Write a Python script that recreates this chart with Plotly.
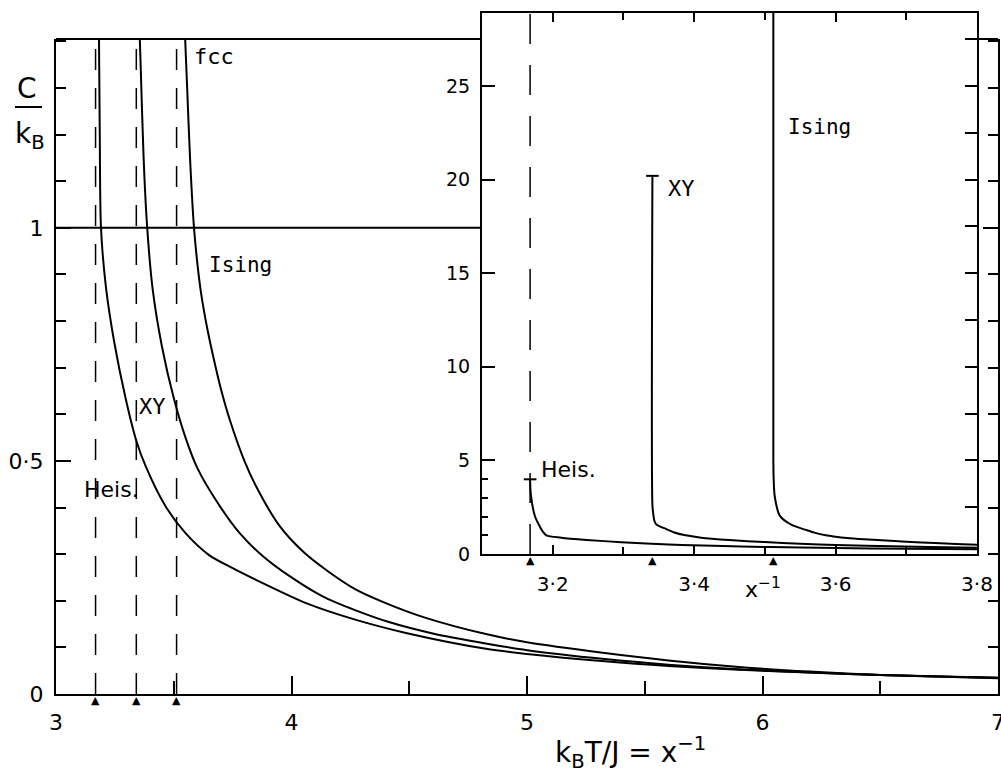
import plotly.graph_objects as go

# ---------------- data ----------------
tc_models = ["Heis.", "XY", "Ising"]
tc_values = [3.168, 3.341, 3.512]          # critical points x_c^-1 (triangles)

heis_x = [3.168, 3.169, 3.175, 3.182, 3.186, 3.191, 3.212, 3.248, 3.297, 3.34, 3.382,
          3.467, 3.55, 3.65, 3.75, 3.849, 4.062, 4.274, 4.486, 4.826, 5.0, 5.33, 5.6, 5.9,
          6.2, 6.5, 7.0]
heis_y = [3.99, 3.2, 2.0, 1.45, 1.19, 1.0, 0.873, 0.753, 0.631, 0.545, 0.487,
          0.401, 0.345, 0.298, 0.27, 0.245, 0.195, 0.159, 0.131, 0.097, 0.086, 0.07, 0.06, 0.052,
          0.046, 0.041, 0.034]

xy_x = [3.341, 3.341, 3.342, 3.344, 3.347, 3.36, 3.372, 3.386, 3.41, 3.45, 3.50, 3.55,
        3.60, 3.68, 3.78, 3.88, 4.0, 4.13, 4.27, 4.41, 4.6, 4.83, 5.0, 5.33, 5.6, 5.9,
        6.2, 6.5, 7.0]
xy_y = [20.2, 2.6, 2.2, 1.75, 1.56, 1.34, 1.15, 1.01, 0.87, 0.745, 0.635, 0.55,
        0.485, 0.415, 0.345, 0.295, 0.25, 0.21, 0.18, 0.155, 0.13, 0.108, 0.094, 0.075, 0.063, 0.053,
        0.046, 0.041, 0.035]

ising_x = [3.512, 3.512, 3.5125, 3.514, 3.521, 3.538, 3.557, 3.57, 3.586, 3.60, 3.616, 3.64,
           3.665, 3.70, 3.74, 3.80, 3.85, 3.95, 4.05, 4.15, 4.27, 4.40, 4.56, 4.83, 5.0, 5.33,
           5.6, 5.9, 6.2, 6.5, 7.0]
ising_y = [30.0, 5.0, 3.96, 3.07, 2.05, 1.55, 1.30, 1.14, 1.0, 0.925, 0.86, 0.79,
           0.73, 0.655, 0.585, 0.50, 0.445, 0.36, 0.305, 0.265, 0.225, 0.195, 0.165, 0.128, 0.111, 0.088,
           0.072, 0.058, 0.048, 0.041, 0.035]

cap_x = [3.168, 3.341]     # finite peak tops (Heis., XY) in the inset
cap_y = [3.99, 20.2]

main_xticks = [3, 4, 5, 6, 7]
main_yticks = [0, 0.5, 1]
main_yticktext = ["0", "0·5", "1"]
inset_xticks = [3.2, 3.4, 3.6, 3.8]
inset_xticktext = ["3·2", "3·4", "3·6", "3·8"]
inset_yticks = [0, 5, 10, 15, 20, 25]
inset_yminor = [1, 2, 3, 4]
inset_yright = [2.5, 5, 7.5, 10, 12.5, 15, 17.5, 20, 22.5, 25, 27.5]
unit_line = 1.0

# ---------------- geometry ----------------
W, H = 1001, 776
ML, MR, MT, MB = 56, 3, 13, 82
PW, PH = W - ML - MR, H - MT - MB


def px(xp):
    return (xp - ML) / PW


def py(yp):
    return (H - MB - yp) / PH


main_top = py(39)
ins_x0, ins_x1 = px(482), px(977)
ins_y0 = py(554)

BLACK = "black"
TXT = "DejaVu Sans"
LBL = "DejaVu Sans Mono"

fig = go.Figure()
series = [(heis_x, heis_y), (xy_x, xy_y), (ising_x, ising_y)]
for (sx, sy), name in zip(series, tc_models):
    for xa, ya in (("x", "y"), ("x2", "y2")):
        fig.add_trace(go.Scatter(x=sx, y=sy, mode="lines", name=name, showlegend=False,
                                 line=dict(color=BLACK, width=2, shape="spline", smoothing=0.8),
                                 xaxis=xa, yaxis=ya, hoverinfo="skip"))

fig.add_trace(go.Scatter(x=cap_x, y=cap_y, mode="markers", showlegend=False,
                         marker=dict(symbol="line-ew", size=9, line=dict(color=BLACK, width=2)),
                         xaxis="x2", yaxis="y2", hoverinfo="skip"))
fig.add_trace(go.Scatter(x=[], y=[], xaxis="x2", yaxis="y3", showlegend=False, hoverinfo="skip"))

shapes = []
for t in tc_values:
    shapes.append(dict(type="line", xref="x", yref="y domain", x0=t, x1=t, y0=0, y1=1,
                       line=dict(color=BLACK, width=1.5, dash="21px,18px")))
shapes.append(dict(type="line", xref="x2", yref="y2 domain", x0=tc_values[0], x1=tc_values[0],
                   y0=0, y1=1, line=dict(color=BLACK, width=1.5, dash="30px,21px")))
shapes.append(dict(type="line", xref="paper", yref="y", x0=0, x1=ins_x0, y0=unit_line, y1=unit_line,
                   line=dict(color=BLACK, width=2)))
shapes.append(dict(type="line", xref="paper", yref="paper", x0=0, x1=ins_x0, y0=main_top, y1=main_top,
                   line=dict(color=BLACK, width=2)))
shapes.append(dict(type="line", xref="paper", yref="paper", x0=ins_x1, x1=1, y0=main_top, y1=main_top,
                   line=dict(color=BLACK, width=2)))
shapes.append(dict(type="line", xref="paper", yref="paper", x0=px(15), x1=px(42), y0=py(107), y1=py(107),
                   line=dict(color=BLACK, width=2)))

ann = []


def add_text(text, xp, yp, size, family=LBL, xanchor="center", yanchor="middle"):
    ann.append(dict(text=text, x=px(xp), y=py(yp), xref="paper", yref="paper", showarrow=False,
                    xanchor=xanchor, yanchor=yanchor, font=dict(family=family, size=size, color=BLACK)))


add_text("fcc", 214, 57, 22)
add_text("Ising", 240, 265, 21)
add_text("XY", 152, 406, 22)
add_text("Heis.", 111, 489, 22, family=TXT)
add_text("Ising", 819, 127, 21)
add_text("XY", 681, 188, 22)
add_text("Heis.", 568, 469, 22, family=TXT)
add_text("C", 27, 89, 28, family=TXT)
add_text("k<sub>B</sub>", 30, 136, 28, family=TXT)
add_text("k<sub>B</sub>T/J = x<sup>−1</sup>", 630, 752, 28, family=TXT)
add_text("x<sup>−1</sup>", 763, 588, 22, family=TXT)

for t in tc_values:
    for xa, ya in (("x", "y"), ("x2", "y2")):
        ann.append(dict(text="▲", x=t, y=0, xref=xa, yref=ya, showarrow=False, yanchor="top",
                        font=dict(family=TXT, size=11, color=BLACK), yshift=2))

axis_common = dict(showgrid=False, zeroline=False, showline=True, linecolor=BLACK, linewidth=2,
                   ticks="inside", tickcolor=BLACK, tickwidth=2, automargin=False)

fig.update_layout(
    template="none",
    width=W, height=H, autosize=False, margin=dict(l=ML, r=MR, t=MT, b=MB, pad=0),
    paper_bgcolor="white", plot_bgcolor="white",
    shapes=shapes, annotations=ann,
    xaxis=dict(axis_common, domain=[0, 1], range=[3, 7], anchor="y", mirror=False,
               tickmode="array", tickvals=main_xticks, ticklen=18, ticklabelstandoff=8,
               ticklabeloverflow="allow",
               tickfont=dict(family=TXT, size=22, color=BLACK),
               minor=dict(dtick=0.5, tick0=3, ticklen=13, tickwidth=2, tickcolor=BLACK, ticks="inside")),
    yaxis=dict(axis_common, domain=[0, main_top], range=[0, 1.405], anchor="x", mirror="ticks",
               tickmode="array", tickvals=main_yticks, ticktext=main_yticktext, ticklen=15,
               ticklabelstandoff=6, tickfont=dict(family=TXT, size=22, color=BLACK),
               minor=dict(dtick=0.1, tick0=0, ticklen=10, tickwidth=2, tickcolor=BLACK, ticks="inside")),
    xaxis2=dict(axis_common, domain=[ins_x0, ins_x1], range=[3.1, 3.8], anchor="y2", mirror="ticks",
                tickmode="array", tickvals=inset_xticks, ticktext=inset_xticktext, ticklen=9,
                ticklabelstandoff=11, ticklabeloverflow="allow",
                tickfont=dict(family=TXT, size=20, color=BLACK),
                minor=dict(dtick=0.1, tick0=3.1, ticklen=7, tickwidth=2, tickcolor=BLACK, ticks="inside")),
    yaxis2=dict(axis_common, domain=[ins_y0, 1], range=[0, 28.9], anchor="x2", mirror=True,
                tickmode="array", tickvals=inset_yticks, ticklen=13, ticklabelstandoff=6,
                tickfont=dict(family=TXT, size=19, color=BLACK),
                minor=dict(tickmode="array", tickvals=inset_yminor, ticklen=6, tickwidth=2,
                           tickcolor=BLACK, ticks="inside")),
    yaxis3=dict(showgrid=False, zeroline=False, showline=False, overlaying="y2", side="right",
                anchor="x2", range=[0, 28.9], tickmode="array", tickvals=inset_yright, automargin=False,
                ticks="inside", ticklen=12, tickwidth=2, tickcolor=BLACK, showticklabels=False),
)

fig.write_html(
    "out.html",
    config={"displayModeBar": False, "responsive": False, "staticPlot": True},
    post_script=("document.body.style.margin='0';"
                 "document.body.style.overflow='hidden';"
                 "document.documentElement.style.overflow='hidden';"),
)
